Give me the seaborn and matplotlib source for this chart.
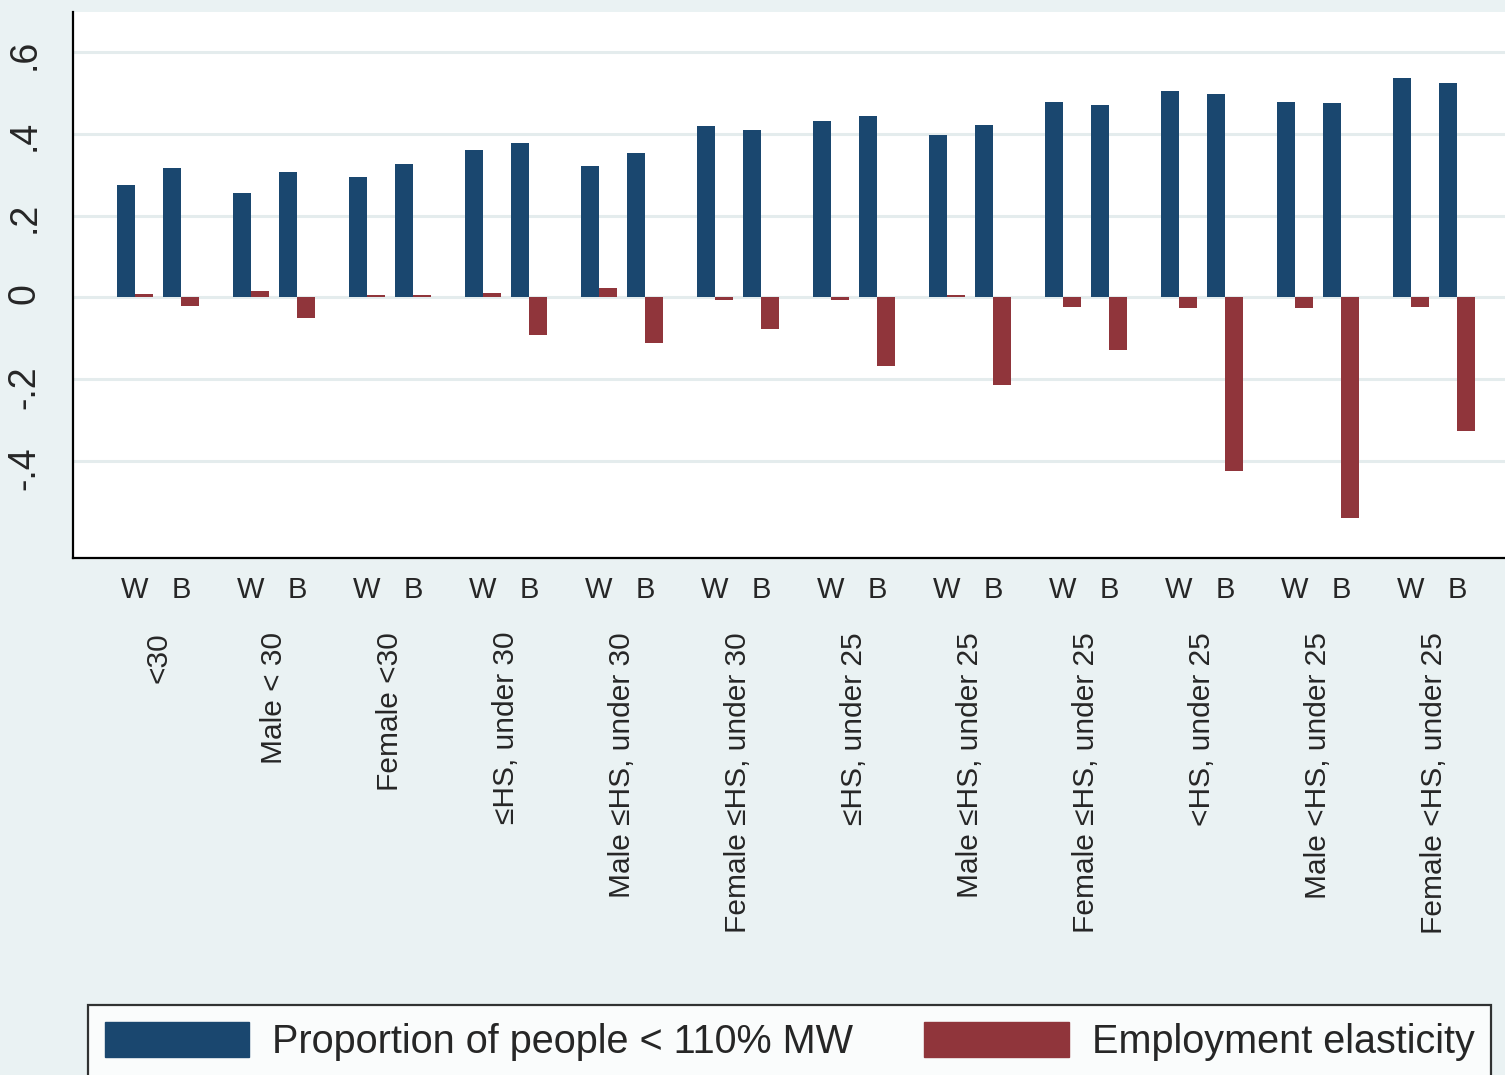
import numpy as np
import pandas as pd
import matplotlib
matplotlib.use("Agg")
import matplotlib.pyplot as plt
from matplotlib.patches import Patch
import seaborn as sns

# Data
groups = ["<30", "Male < 30", "Female <30", "≤HS, under 30", "Male ≤HS, under 30",
          "Female ≤HS, under 30", "≤HS, under 25", "Male ≤HS, under 25",
          "Female ≤HS, under 25", "<HS, under 25", "Male <HS, under 25",
          "Female <HS, under 25"]
races = ["W", "B"]
series = ["Proportion of people < 110% MW", "Employment elasticity"]

prop_w = [0.275, 0.255, 0.296, 0.362, 0.322, 0.420, 0.432, 0.397, 0.479, 0.505, 0.478, 0.537]
prop_b = [0.318, 0.306, 0.328, 0.379, 0.354, 0.409, 0.445, 0.422, 0.472, 0.498, 0.475, 0.524]
elas_w = [0.008, 0.016, 0.005, 0.011, 0.023, -0.007, -0.007, 0.005, -0.024, -0.025, -0.025, -0.024]
elas_b = [-0.021, -0.050, 0.005, -0.091, -0.111, -0.077, -0.169, -0.215, -0.128, -0.424, -0.539, -0.328]

yticks = [-0.4, -0.2, 0, 0.2, 0.4, 0.6]
ytick_labels = ["-.4", "-.2", "0", ".2", ".4", ".6"]

# Layout: W/B slots inside each group, wider gap between groups (Stata over() style)
GROUP_STEP = 116 / 46
SLOT_STEP = 1.0

rows = []
for g, name in enumerate(groups):
    vals = {"W": (prop_w[g], elas_w[g]), "B": (prop_b[g], elas_b[g])}
    for r, race in enumerate(races):
        pos = g * GROUP_STEP + r * SLOT_STEP
        for s, lab in enumerate(series):
            rows.append({"pos": pos, "race": race, "group": name,
                         "series": lab, "value": vals[race][s]})
df = pd.DataFrame(rows)

BG = "#EAF2F3"
NAVY = "#1A476F"
MAROON = "#90353B"

sns.set_style("white")
plt.rcParams["font.family"] = ["Liberation Sans", "DejaVu Sans"]

fig = plt.figure(figsize=(15.05, 10.75), dpi=100, facecolor=BG)
ax = fig.add_axes([73 / 1505, 1 - 558 / 1075, (1518 - 73) / 1505, (558 - 12) / 1075])
ax.set_facecolor("white")

sns.barplot(data=df, x="pos", y="value", hue="series", hue_order=series,
            palette=[NAVY, MAROON], native_scale=True, width=36 / 46,
            saturation=1, errorbar=None, linewidth=0, legend=False, ax=ax)

ax.set_ylim(-0.638, 0.699)
ax.set_xlim(-62 / 46, (1518 - 135) / 46)
ax.set_yticks(yticks)
ax.set_yticklabels(ytick_labels)
ax.yaxis.grid(True, color="#E4ECED", linewidth=2.2)
ax.set_axisbelow(True)

for side in ["top", "right"]:
    ax.spines[side].set_visible(False)
for side in ["left", "bottom"]:
    ax.spines[side].set_color("black")
    ax.spines[side].set_linewidth(1.6)

ax.tick_params(axis="y", length=11, width=1.6, pad=11, labelsize=27, labelrotation=90)

slot_pos = sorted(df["pos"].unique())
slot_lab = [races[i % 2] for i in range(len(slot_pos))]
ax.set_xticks(slot_pos)
ax.set_xticklabels(slot_lab)
ax.tick_params(axis="x", length=0, pad=13, labelsize=21)
ax.set_xlabel("")
ax.set_ylabel("")

for g, name in enumerate(groups):
    center = g * GROUP_STEP + SLOT_STEP / 2
    ax.text(center, -0.1355, name, transform=ax.get_xaxis_transform(),
            rotation=90, ha="center", va="top", fontsize=21.5)

handles = [Patch(facecolor=NAVY, edgecolor=NAVY), Patch(facecolor=MAROON, edgecolor=MAROON)]
leg = fig.legend(handles, series, loc="upper left", bbox_to_anchor=(88 / 1505, 1 - 1005 / 1075),
                 ncol=2, fontsize=28.5, frameon=True, fancybox=False, handlelength=3.65,
                 handleheight=1.0, handletextpad=0.58, columnspacing=1.8, borderpad=0.42,
                 borderaxespad=0)
leg.get_frame().set_edgecolor("black")
leg.get_frame().set_linewidth(1.6)
leg.get_frame().set_facecolor("white")

fig.savefig("out.png", dpi=100, facecolor=BG)
